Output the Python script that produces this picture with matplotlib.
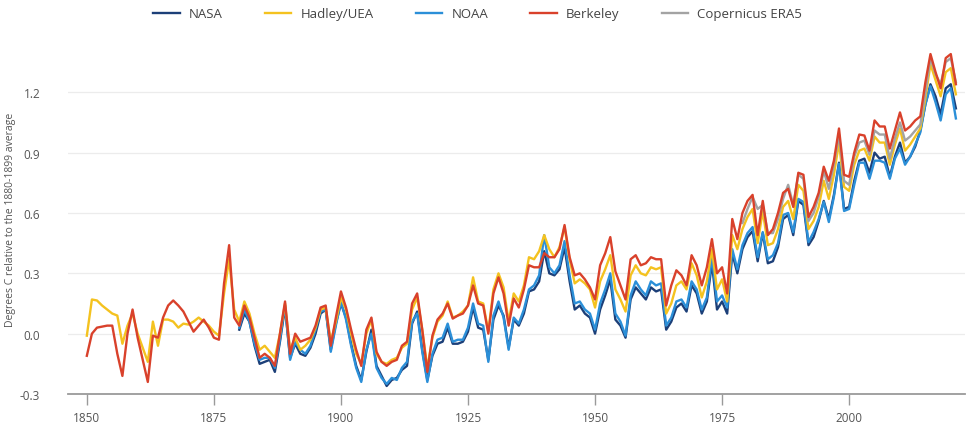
import numpy as np
import matplotlib
matplotlib.use('Agg')
import matplotlib.pyplot as plt

# Annual anomalies, degrees C relative to 1880-1899
years_long = list(range(1850, 2022))
years_mid = list(range(1880, 2022))
years_era5 = list(range(1979, 2022))

berkeley = [
    -0.11, 0.00, 0.03, 0.035, 0.04, 0.04, -0.10, -0.21, 0.00, 0.12,
    -0.02, -0.13, -0.24, -0.01, -0.02, 0.08, 0.14, 0.165, 0.14, 0.11,
    0.06, 0.01, 0.04, 0.07, 0.03, -0.02, -0.03, 0.25, 0.44, 0.08,
    0.04, 0.14, 0.08, -0.02, -0.12, -0.10, -0.12, -0.16, 0.00, 0.16,
    -0.10, 0.00, -0.04, -0.03, -0.02, 0.04, 0.13, 0.14, -0.06, 0.08,
    0.21, 0.13, 0.02, -0.08, -0.16, 0.02, 0.08, -0.09, -0.14, -0.16,
    -0.14, -0.13, -0.06, -0.04, 0.15, 0.20, 0.02, -0.19, -0.01, 0.07,
    0.10, 0.15, 0.075, 0.09, 0.10, 0.14, 0.24, 0.15, 0.14, 0.00,
    0.20, 0.28, 0.20, 0.04, 0.175, 0.13, 0.22, 0.34, 0.33, 0.33,
    0.40, 0.38, 0.38, 0.42, 0.54, 0.38, 0.29, 0.30, 0.27, 0.23,
    0.17, 0.34, 0.40, 0.48, 0.31, 0.24, 0.17, 0.37, 0.39, 0.34,
    0.35, 0.38, 0.37, 0.37, 0.14, 0.24, 0.315, 0.29, 0.24, 0.39,
    0.34, 0.24, 0.33, 0.47, 0.30, 0.33, 0.20, 0.57, 0.47, 0.60,
    0.66, 0.69, 0.49, 0.66, 0.49, 0.52, 0.60, 0.70, 0.72, 0.63,
    0.80, 0.79, 0.58, 0.63, 0.70, 0.83, 0.76, 0.86, 1.02, 0.79,
    0.78, 0.90, 0.99, 0.985, 0.91, 1.06, 1.03, 1.03, 0.92, 1.01,
    1.10, 1.01, 1.03, 1.06, 1.08, 1.25, 1.39, 1.30, 1.22, 1.37,
    1.39, 1.24,
]

hadley = [
    -0.01, 0.17, 0.165, 0.14, 0.12, 0.10, 0.09, -0.05, 0.04, 0.10,
    0.00, -0.07, -0.14, 0.06, -0.06, 0.07, 0.07, 0.06, 0.03, 0.05,
    0.045, 0.06, 0.08, 0.06, 0.04, 0.01, -0.01, 0.20, 0.37, 0.12,
    0.06, 0.16, 0.10, 0.00, -0.08, -0.06, -0.09, -0.12, 0.00, 0.15,
    -0.08, -0.02, -0.08, -0.06, -0.03, 0.03, 0.12, 0.13, -0.04, 0.06,
    0.18, 0.12, 0.00, -0.10, -0.15, 0.00, 0.07, -0.10, -0.14, -0.15,
    -0.13, -0.12, -0.07, -0.05, 0.12, 0.18, 0.02, -0.17, -0.02, 0.06,
    0.09, 0.16, 0.08, 0.09, 0.11, 0.14, 0.28, 0.16, 0.15, 0.01,
    0.22, 0.30, 0.23, 0.06, 0.20, 0.16, 0.24, 0.38, 0.37, 0.41,
    0.49, 0.42, 0.38, 0.43, 0.53, 0.37, 0.25, 0.27, 0.25, 0.22,
    0.13, 0.26, 0.32, 0.39, 0.22, 0.17, 0.11, 0.29, 0.34, 0.30,
    0.29, 0.33, 0.32, 0.33, 0.10, 0.15, 0.24, 0.26, 0.22, 0.35,
    0.29, 0.18, 0.26, 0.42, 0.22, 0.27, 0.16, 0.49, 0.42, 0.52,
    0.58, 0.62, 0.45, 0.61, 0.44, 0.45, 0.52, 0.63, 0.66, 0.57,
    0.74, 0.71, 0.52, 0.56, 0.63, 0.76, 0.67, 0.79, 0.95, 0.73,
    0.71, 0.84, 0.91, 0.92, 0.86, 0.98, 0.95, 0.95, 0.84, 0.94,
    1.02, 0.91, 0.94, 0.98, 1.02, 1.17, 1.34, 1.26, 1.18, 1.30,
    1.32, 1.19,
]

noaa = [
    0.03, 0.12, 0.06, -0.05, -0.13, -0.12, -0.12, -0.17, -0.03, 0.14,
    -0.13, -0.04, -0.08, -0.10, -0.06, 0.02, 0.11, 0.12, -0.09, 0.04,
    0.16, 0.07, -0.06, -0.17, -0.24, -0.08, 0.00, -0.17, -0.22, -0.25,
    -0.22, -0.23, -0.17, -0.14, 0.06, 0.10, -0.09, -0.24, -0.10, -0.03,
    -0.02, 0.05, -0.04, -0.03, -0.03, 0.03, 0.15, 0.05, 0.04, -0.14,
    0.09, 0.16, 0.08, -0.08, 0.08, 0.05, 0.12, 0.22, 0.24, 0.29,
    0.49, 0.33, 0.30, 0.34, 0.46, 0.29, 0.15, 0.16, 0.12, 0.10,
    0.02, 0.15, 0.22, 0.30, 0.10, 0.06, -0.01, 0.19, 0.26, 0.22,
    0.19, 0.26, 0.24, 0.25, 0.04, 0.08, 0.16, 0.17, 0.13, 0.26,
    0.22, 0.12, 0.18, 0.38, 0.16, 0.19, 0.13, 0.42, 0.32, 0.44,
    0.50, 0.53, 0.38, 0.505, 0.37, 0.39, 0.45, 0.59, 0.60, 0.505,
    0.67, 0.655, 0.455, 0.505, 0.57, 0.655, 0.555, 0.68, 0.845, 0.61,
    0.62, 0.74, 0.85, 0.85, 0.77, 0.86, 0.86, 0.85, 0.77, 0.87,
    0.92, 0.84, 0.88, 0.94, 1.00, 1.14, 1.23, 1.15, 1.06, 1.19,
    1.22, 1.07,
]

nasa = [
    0.02, 0.10, 0.06, -0.06, -0.15, -0.14, -0.13, -0.19, -0.04, 0.13,
    -0.12, -0.05, -0.10, -0.11, -0.07, 0.00, 0.10, 0.12, -0.08, 0.05,
    0.15, 0.08, -0.05, -0.16, -0.23, -0.09, 0.02, -0.16, -0.21, -0.26,
    -0.23, -0.22, -0.18, -0.16, 0.05, 0.11, -0.08, -0.23, -0.11, -0.05,
    -0.04, 0.03, -0.05, -0.05, -0.04, 0.01, 0.13, 0.03, 0.02, -0.13,
    0.07, 0.14, 0.09, -0.07, 0.07, 0.04, 0.10, 0.21, 0.22, 0.26,
    0.41, 0.30, 0.29, 0.32, 0.43, 0.26, 0.12, 0.14, 0.10, 0.08,
    0.00, 0.12, 0.19, 0.27, 0.07, 0.04, -0.02, 0.17, 0.23, 0.20,
    0.17, 0.23, 0.21, 0.22, 0.02, 0.06, 0.13, 0.15, 0.11, 0.24,
    0.20, 0.10, 0.16, 0.35, 0.12, 0.16, 0.10, 0.40, 0.30, 0.42,
    0.48, 0.51, 0.36, 0.50, 0.35, 0.36, 0.43, 0.57, 0.59, 0.49,
    0.66, 0.64, 0.44, 0.48, 0.56, 0.66, 0.57, 0.69, 0.85, 0.62,
    0.63, 0.76, 0.86, 0.87, 0.80, 0.90, 0.87, 0.88, 0.78, 0.88,
    0.95, 0.85, 0.88, 0.93, 1.01, 1.14, 1.24, 1.18, 1.09, 1.22,
    1.24, 1.12,
]

era5 = [
    0.55, 0.62, 0.68, 0.62, 0.64, 0.50, 0.50, 0.57, 0.67, 0.74,
    0.64, 0.79, 0.77, 0.56, 0.60, 0.68, 0.81, 0.72, 0.84, 0.99,
    0.76, 0.74, 0.88, 0.95, 0.96, 0.89, 1.01, 0.99, 0.99, 0.87,
    0.97, 1.05, 0.96, 0.98, 1.01, 1.04, 1.20, 1.37, 1.29, 1.24,
    1.35, 1.37, 1.25,
]

x_ticks = [1850, 1875, 1900, 1925, 1950, 1975, 2000]
y_ticks = [-0.3, 0.0, 0.3, 0.6, 0.9, 1.2]

plt.rcParams['font.family'] = ['Open Sans', 'DejaVu Sans']

fig = plt.figure(figsize=(9.69, 4.27), dpi=100)
ax = fig.add_axes([0.0702, 0.0749, 0.9257, 0.8197])

# draw order: others first, Berkeley on top
ax.plot(years_mid, nasa, color='#1c3f78', lw=1.7, label='NASA', zorder=3)
ax.plot(years_long, hadley, color='#f4c21f', lw=1.7, label='Hadley/UEA', zorder=4)
ax.plot(years_mid, noaa, color='#2b8fd8', lw=1.7, label='NOAA', zorder=3.5)
ax.plot(years_long, berkeley, color='#d9412b', lw=1.7, label='Berkeley', zorder=6)
ax.plot(years_era5, era5, color='#a3a3a3', lw=1.7, label='Copernicus ERA5', zorder=5)

ax.set_xlim(1846.3, 2022.8)
ax.set_ylim(-0.3, 1.44)
ax.set_xticks(x_ticks)
ax.set_yticks(y_ticks)
ax.set_yticklabels([f'{v:.1f}' for v in y_ticks])

for v in y_ticks[1:]:
    ax.axhline(v, color='#ececec', lw=0.9, zorder=1)

for s in ['top', 'right', 'left']:
    ax.spines[s].set_visible(False)
ax.spines['bottom'].set_color('#9a9a9a')
ax.spines['bottom'].set_linewidth(1.3)

ax.tick_params(axis='x', length=8, width=1, color='#9a9a9a', labelsize=8.5,
               labelcolor='#555555', pad=4)
ax.tick_params(axis='y', length=0, labelsize=8.5, labelcolor='#555555', pad=20)

ax.set_ylabel('Degrees C relative to the 1880-1899 average', fontsize=7.5,
              color='#555555', labelpad=3)

handles, labels = ax.get_legend_handles_labels()
leg = fig.legend(handles, labels, loc='center', bbox_to_anchor=(0.493, 0.965),
                 ncol=5, frameon=False, fontsize=9.5, handlelength=2.0,
                 columnspacing=3.2, handletextpad=0.7)
for t in leg.get_texts():
    t.set_color('#444444')

fig.savefig('out.png', dpi=100, facecolor='white')
